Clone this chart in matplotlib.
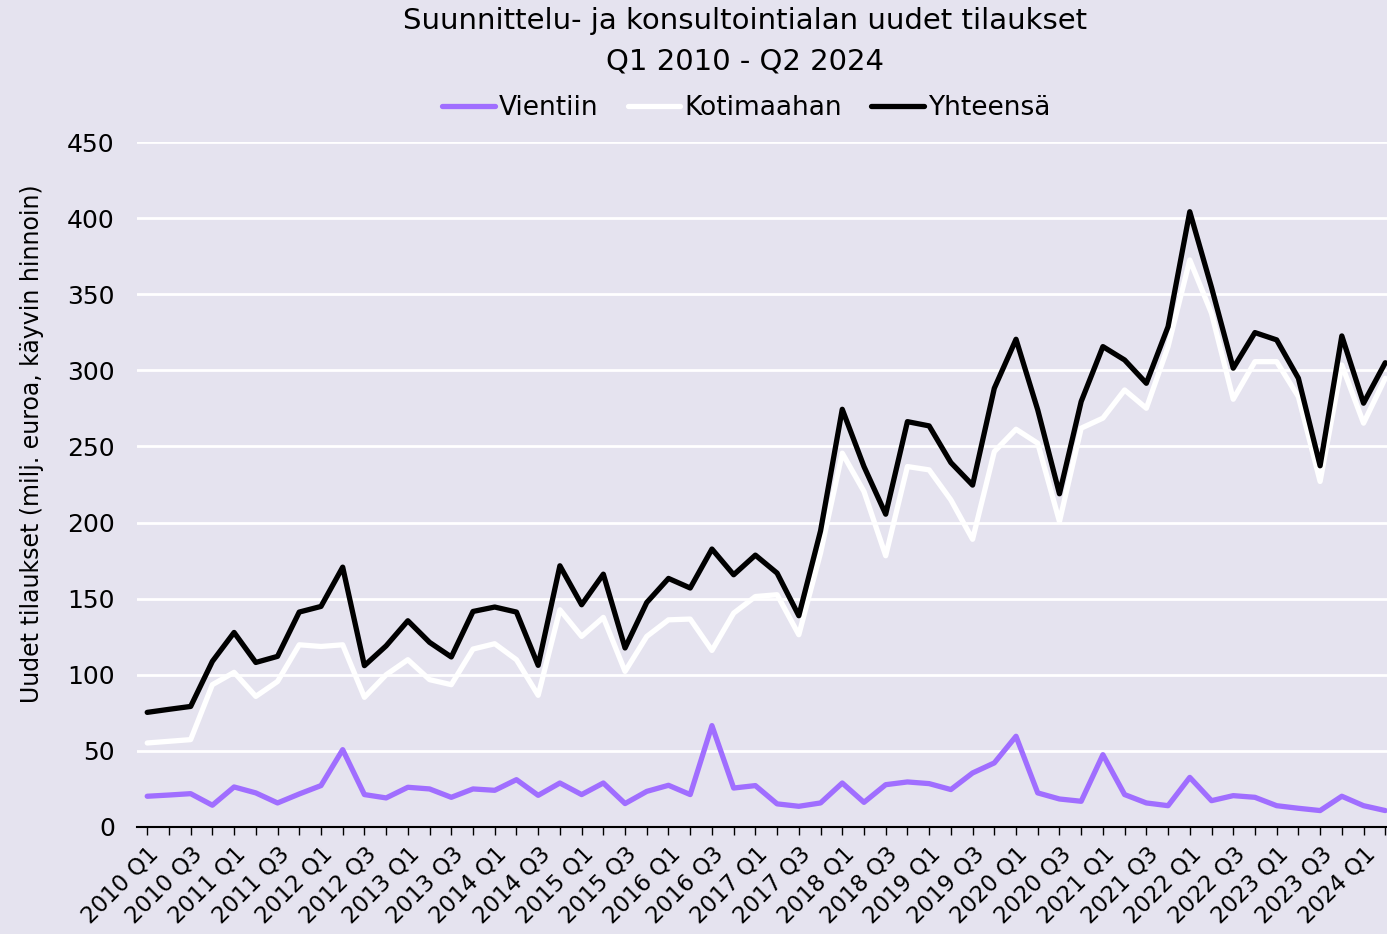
import matplotlib
matplotlib.use("Agg")
import matplotlib.pyplot as plt
import numpy as np

years = list(range(2010, 2025))
quarters = [f"{y} Q{q}" for y in years for q in range(1, 5)][:58]

vientiin = [20.2, 21.0, 21.9, 14.3, 26.3, 22.4, 15.8, 21.7, 27.2, 50.8,
            21.3, 19.1, 26.1, 25.0, 19.5, 25.0, 24.1, 31.1, 20.8, 28.9,
            21.3, 28.9, 15.4, 23.4, 27.4, 21.3, 66.6, 25.6, 27.2, 15.2,
            13.6, 15.8, 28.9, 16.2, 27.8, 29.6, 28.5, 24.6, 35.5, 42.1,
            59.6, 22.4, 18.4, 16.9, 47.5, 21.3, 15.8, 14.0, 32.6, 17.3,
            20.6, 19.5, 14.0, 12.3, 10.8, 20.2, 14.0, 10.8]
kotimaahan = [55.2, 56.3, 57.4, 93.5, 101.6, 85.8, 95.6, 119.7, 118.6, 119.7,
              85.2, 100.0, 109.9, 96.8, 93.5, 116.9, 120.4, 109.9, 86.5, 142.7,
              125.2, 137.7, 102.2, 125.2, 136.1, 136.6, 116.0, 140.5, 151.4, 152.6,
              126.3, 180.0, 245.6, 220.4, 178.2, 236.8, 234.6, 214.9, 189.0, 246.6,
              261.3, 252.1, 200.7, 262.0, 268.6, 287.1, 275.1, 315.6, 372.5, 337.5,
              281.0, 305.7, 305.7, 282.7, 227.0, 303.5, 265.3, 294.8]
yhteensa = [75.3, 77.3, 79.2, 108.8, 127.8, 108.1, 112.1, 141.2, 144.9, 170.7,
            106.0, 119.0, 135.5, 121.3, 111.7, 141.6, 144.5, 141.2, 106.2, 171.6,
            146.0, 166.1, 117.6, 147.5, 163.3, 157.0, 182.6, 165.7, 178.6, 166.8,
            138.8, 194.5, 274.4, 236.8, 205.5, 266.3, 263.5, 239.4, 224.6, 288.2,
            320.4, 274.0, 218.9, 279.5, 315.6, 306.8, 291.5, 328.7, 404.2, 354.5,
            301.4, 324.8, 320.0, 294.8, 237.3, 322.6, 278.4, 305.0]

bg = "#E5E3EF"
purple = "#A06EFF"

fig = plt.figure(figsize=(13.87, 9.34), dpi=100, facecolor=bg)
ax = fig.add_axes([137/1387, 1-827/934, 1-137/1387, (827-142)/934])
ax.set_facecolor(bg)

x = np.arange(len(quarters))
kw = dict(lw=3.8, solid_joinstyle="round", solid_capstyle="round")
ax.plot(x, vientiin, color=purple, label="Vientiin", zorder=3, **kw)
ax.plot(x, kotimaahan, color="white", label="Kotimaahan", zorder=3, **kw)
ax.plot(x, yhteensa, color="black", label="Yhteensä", zorder=4, **kw)

ax.set_xlim(-0.47, 57.08)
ax.set_ylim(0, 450)
ax.set_yticks(np.arange(0, 451, 50))
ax.grid(axis="y", color="white", lw=2, zorder=0)
ax.set_axisbelow(True)
for s in ["top", "right", "left"]:
    ax.spines[s].set_visible(False)
ax.spines["bottom"].set_color("black")
ax.spines["bottom"].set_linewidth(1.5)
ax.spines["bottom"].set_zorder(5)

ax.set_xticks(x)
ax.set_xticklabels([q if i % 2 == 0 else "" for i, q in enumerate(quarters)],
                   rotation=45, ha="right", va="top", rotation_mode="anchor", fontsize=16.5)
ax.tick_params(axis="x", length=6, width=1, color="black", pad=5)
ax.tick_params(axis="y", length=0, labelsize=18, pad=16)
ax.set_ylabel("Uudet tilaukset (milj. euroa, käyvin hinnoin)", fontsize=17)
ax.yaxis.set_label_coords(-0.0744, 0.56)

fig.text(0.537, 0.977, "Suunnittelu- ja konsultointialan uudet tilaukset", ha="center", va="center",
         fontsize=21)
fig.text(0.537, 0.934, "Q1 2010 - Q2 2024", ha="center", va="center", fontsize=21)

leg = fig.legend(loc="center", bbox_to_anchor=(0.538, 0.884), ncol=3, frameon=False,
                 prop={"size": 19}, handlelength=2.0, handletextpad=0.15, columnspacing=1.1)

fig.savefig("out.png", dpi=100, facecolor=bg)
